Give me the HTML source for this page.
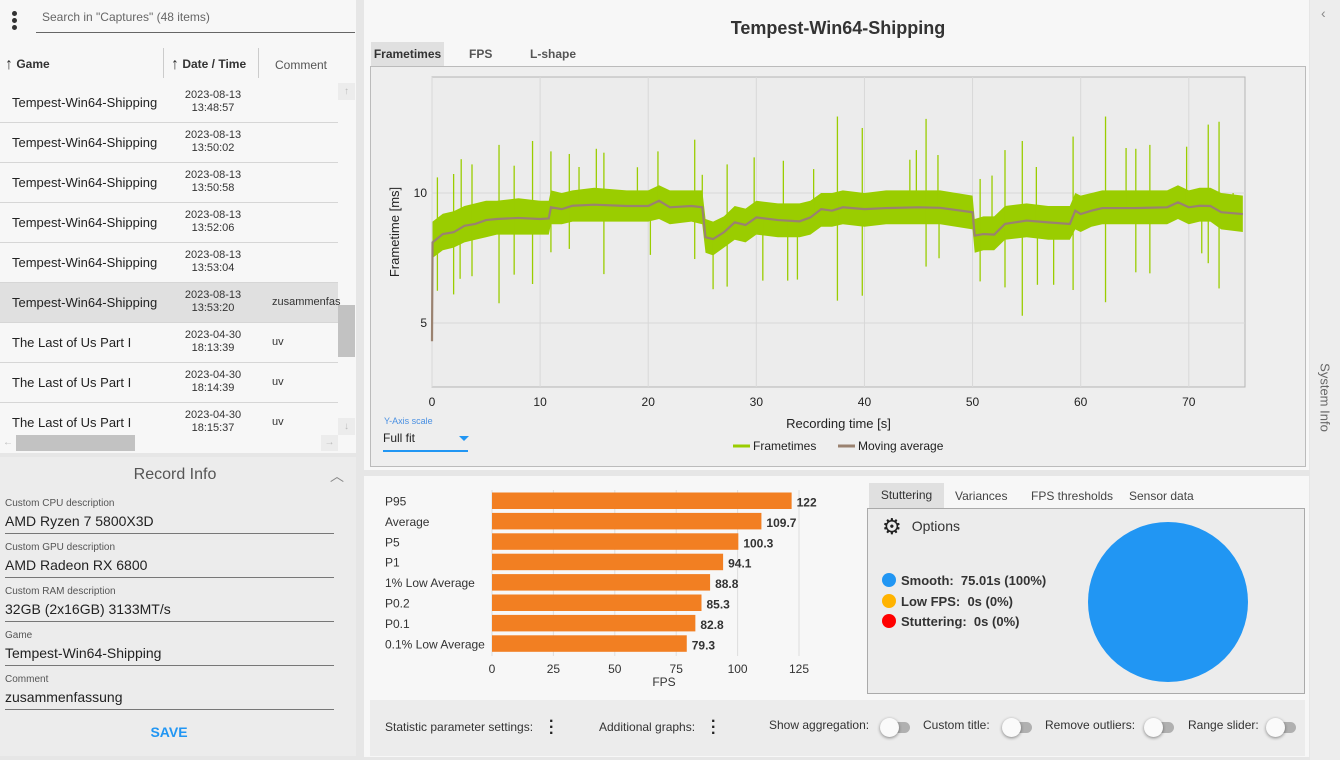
<!DOCTYPE html>
<html><head><meta charset="utf-8">
<style>
*{box-sizing:border-box;margin:0;padding:0}
body{width:1340px;height:760px;overflow:hidden;background:#e6e6e6;font-family:"Liberation Sans",sans-serif;color:#222;position:relative}
.a{position:absolute;white-space:nowrap}
.row{position:absolute;left:0;width:338px;height:40px;border-bottom:1px solid #d6d6d6}
.row .n{position:absolute;left:12px;top:12px;font-size:13px;color:#222}
.row .d{position:absolute;left:170px;width:86px;top:6px;font-size:11px;line-height:13px;text-align:center;color:#333}
.row .c{position:absolute;left:272px;top:13px;font-size:11px;color:#333}
.fl{position:absolute;left:5px;font-size:10px;color:#555}
.fv{position:absolute;left:5px;font-size:14px;color:#222;width:329px;border-bottom:1px solid #777;padding-bottom:4px}
.tog{position:absolute;width:24px;height:11px;border-radius:6px;background:#b0b0b0}
.tog i{position:absolute;left:-6px;top:-4px;width:19px;height:19px;border-radius:50%;background:#fafafa;box-shadow:0 1px 3px rgba(0,0,0,.45)}
</style></head><body>
<!-- left panel -->
<div class="a" style="left:0;top:0;width:356px;height:453px;background:#f7f7f7"></div>
<div class="a" style="left:12px;top:11px;width:6px;height:20px">
<div style="position:absolute;left:0;top:0;width:5px;height:5px;border-radius:50%;background:#333"></div>
<div style="position:absolute;left:0;top:7px;width:5px;height:5px;border-radius:50%;background:#333"></div>
<div style="position:absolute;left:0;top:14px;width:5px;height:5px;border-radius:50%;background:#333"></div></div>
<div class="a" style="left:36px;top:10px;width:319px;height:23px;border-bottom:1px solid #666;font-size:12px;color:#666;padding-left:6px">Search in "Captures" (48 items)</div>
<div class="a" style="left:5px;top:56px;font-size:12px;font-weight:bold;color:#333"><span style="font-size:16px;vertical-align:-1px">↑</span> Game</div>
<div class="a" style="left:163px;top:48px;width:1px;height:30px;background:#ccc"></div>
<div class="a" style="left:171px;top:56px;font-size:12px;font-weight:bold;color:#333"><span style="font-size:16px;vertical-align:-1px">↑</span> Date / Time</div>
<div class="a" style="left:258px;top:48px;width:1px;height:30px;background:#ccc"></div>
<div class="a" style="left:275px;top:58px;font-size:12px;color:#555">Comment</div>

<div class="row" style="top:83px"><span class="n">Tempest-Win64-Shipping</span><span class="d">2023-08-13<br>13:48:57</span></div>
<div class="row" style="top:123px"><span class="n">Tempest-Win64-Shipping</span><span class="d">2023-08-13<br>13:50:02</span></div>
<div class="row" style="top:163px"><span class="n">Tempest-Win64-Shipping</span><span class="d">2023-08-13<br>13:50:58</span></div>
<div class="row" style="top:203px"><span class="n">Tempest-Win64-Shipping</span><span class="d">2023-08-13<br>13:52:06</span></div>
<div class="row" style="top:243px"><span class="n">Tempest-Win64-Shipping</span><span class="d">2023-08-13<br>13:53:04</span></div>
<div class="row" style="top:283px;background:#e0e0e0"><span class="n">Tempest-Win64-Shipping</span><span class="d">2023-08-13<br>13:53:20</span><span class="c">zusammenfas</span></div>
<div class="row" style="top:323px"><span class="n">The Last of Us Part I</span><span class="d">2023-04-30<br>18:13:39</span><span class="c">uv</span></div>
<div class="row" style="top:363px"><span class="n">The Last of Us Part I</span><span class="d">2023-04-30<br>18:14:39</span><span class="c">uv</span></div>
<div class="row" style="top:403px;border:none;height:32px;overflow:hidden"><span class="n">The Last of Us Part I</span><span class="d">2023-04-30<br>18:15:37</span><span class="c">uv</span></div>

<div class="a" style="left:338px;top:83px;width:17px;height:17px;background:#ececec;color:#bbb;font-size:10px;text-align:center;line-height:17px">↑</div>
<div class="a" style="left:338px;top:305px;width:17px;height:52px;background:#c2c2c2"></div>
<div class="a" style="left:338px;top:418px;width:17px;height:17px;background:#ececec;color:#bbb;font-size:10px;text-align:center;line-height:17px">↓</div>
<div class="a" style="left:0;top:435px;width:16px;height:16px;color:#bbb;font-size:10px;text-align:center;line-height:16px">←</div>
<div class="a" style="left:16px;top:435px;width:119px;height:16px;background:#c2c2c2"></div>
<div class="a" style="left:321px;top:435px;width:17px;height:16px;background:#ececec;color:#bbb;font-size:10px;text-align:center;line-height:16px">→</div>

<!-- record info -->
<div class="a" style="left:0;top:457px;width:356px;height:299px;background:#ececec"></div>
<div class="a" style="left:0;top:466px;width:350px;text-align:center;font-size:16px;color:#555">Record Info</div>
<div class="a" style="left:330px;top:466px;font-size:14px;color:#888">︿</div>
<div class="fl" style="top:498px">Custom CPU description</div>
<div class="fv" style="top:513px">AMD Ryzen 7 5800X3D</div>
<div class="fl" style="top:542px">Custom GPU description</div>
<div class="fv" style="top:557px">AMD Radeon RX 6800</div>
<div class="fl" style="top:586px">Custom RAM description</div>
<div class="fv" style="top:601px">32GB (2x16GB) 3133MT/s</div>
<div class="fl" style="top:630px">Game</div>
<div class="fv" style="top:645px">Tempest-Win64-Shipping</div>
<div class="fl" style="top:674px">Comment</div>
<div class="fv" style="top:689px">zusammenfassung</div>
<div class="a" style="left:139px;top:724px;width:60px;text-align:center;font-size:14px;font-weight:bold;color:#2196f3">SAVE</div>

<!-- center top -->
<div class="a" style="left:364px;top:0;width:945px;height:470px;background:#f7f7f7"></div>
<div class="a" style="left:364px;top:18px;width:948px;text-align:center;font-size:18px;font-weight:bold;color:#333">Tempest-Win64-Shipping</div>
<div class="a" style="left:371px;top:42px;width:73px;height:24px;background:#e0e0e0;font-size:12px;font-weight:bold;color:#333;text-align:center;line-height:24px">Frametimes</div>
<div class="a" style="left:469px;top:47px;font-size:12px;font-weight:bold;color:#555">FPS</div>
<div class="a" style="left:530px;top:47px;font-size:12px;font-weight:bold;color:#555">L-shape</div>
<div class="a" style="left:370px;top:66px;width:936px;height:401px;background:#eeeeee;border:1px solid #bbb"></div>
<svg class="a" style="left:0;top:0" width="1340" height="760" id="ft"></svg>
<div class="a" style="left:384px;top:416px;font-size:9px;color:#4a90e2">Y-Axis scale</div>
<div class="a" style="left:383px;top:431px;width:85px;height:21px;border-bottom:2px solid #2196f3;font-size:12px;color:#222">Full fit<span style="position:absolute;left:76px;top:5px;border-left:5px solid transparent;border-right:5px solid transparent;border-top:5px solid #2196f3"></span></div>

<!-- bottom center -->
<div class="a" style="left:364px;top:476px;width:945px;height:281px;background:#f7f7f7"></div>
<svg class="a" style="left:0;top:0" width="1340" height="760" id="bc"></svg>
<div class="a" style="left:869px;top:483px;width:75px;height:25px;background:#e0e0e0;font-size:12px;color:#333;text-align:center;line-height:25px">Stuttering</div>
<div class="a" style="left:955px;top:489px;font-size:12px;color:#444">Variances</div>
<div class="a" style="left:1031px;top:489px;font-size:12px;color:#444">FPS thresholds</div>
<div class="a" style="left:1129px;top:489px;font-size:12px;color:#444">Sensor data</div>
<div class="a" style="left:867px;top:508px;width:438px;height:186px;background:#ececec;border:1px solid #aaa"></div>
<div class="a" style="left:882px;top:514px;font-size:14px;color:#333"><span style="font-size:22px;color:#222">⚙</span><span style="position:relative;left:10px;top:-3px">Options</span></div>
<div class="a" style="left:882px;top:573px;font-size:13px;font-weight:bold;color:#333"><span style="display:inline-block;width:14px;height:14px;border-radius:50%;background:#2196f3;vertical-align:-2px;margin-right:5px"></span>Smooth:&nbsp; 75.01s (100%)</div>
<div class="a" style="left:882px;top:594px;font-size:13px;font-weight:bold;color:#333"><span style="display:inline-block;width:14px;height:14px;border-radius:50%;background:#ffb300;vertical-align:-2px;margin-right:5px"></span>Low FPS:&nbsp; 0s (0%)</div>
<div class="a" style="left:882px;top:614px;font-size:13px;font-weight:bold;color:#333"><span style="display:inline-block;width:14px;height:14px;border-radius:50%;background:#f00;vertical-align:-2px;margin-right:5px"></span>Stuttering:&nbsp; 0s (0%)</div>
<svg class="a" style="left:1080px;top:514px" width="180" height="180"><circle cx="88" cy="88" r="80" fill="#2196f3"/></svg>

<div class="a" style="left:370px;top:700px;width:935px;height:56px;background:#ececec"></div>
<div class="a" style="left:385px;top:720px;font-size:12px;color:#333">Statistic parameter settings:</div>
<div class="a" style="left:549px;top:719px;font-size:16px;font-weight:bold;line-height:6px;color:#222">·<br>·<br>·</div>
<div class="a" style="left:599px;top:720px;font-size:12px;color:#333">Additional graphs:</div>
<div class="a" style="left:711px;top:719px;font-size:16px;font-weight:bold;line-height:6px;color:#222">·<br>·<br>·</div>
<div class="a" style="left:769px;top:718px;font-size:12px;color:#333">Show aggregation:</div>
<div class="tog" style="left:886px;top:722px"><i></i></div>
<div class="a" style="left:923px;top:718px;font-size:12px;color:#333">Custom title:</div>
<div class="tog" style="left:1008px;top:722px"><i></i></div>
<div class="a" style="left:1045px;top:718px;font-size:12px;color:#333">Remove outliers:</div>
<div class="tog" style="left:1150px;top:722px"><i></i></div>
<div class="a" style="left:1188px;top:718px;font-size:12px;color:#333">Range slider:</div>
<div class="tog" style="left:1272px;top:722px"><i></i></div>

<!-- right strip -->
<div class="a" style="left:1310px;top:0;width:30px;height:760px;background:#ededed"></div>
<div class="a" style="left:1321px;top:5px;font-size:14px;color:#888">‹</div>
<div class="a" style="left:1280px;top:390px;width:90px;text-align:center;font-size:13px;color:#666;transform:rotate(90deg)">System Info</div>

<script>
// ---------- Frametime chart data ----------
const maTimes = [0,0.05,1,2,3,4,5,6,8,10,10.8,11,12,13,15,18,20,21,22,24,25,25.3,26,27,28,29,30,32,34,35,36,37,38,40,42,45,47,50,50.2,51,52,53,55,57,59,59.5,60,61,62,65,68,69,70,71,72,73,75];
const maValues = [4.3,8.1,8.42,8.49,8.74,8.81,8.96,9.0,9.04,9.0,9.02,9.45,9.38,9.51,9.55,9.5,9.5,9.7,9.45,9.5,9.45,8.3,8.23,8.49,8.87,8.77,9.06,8.96,8.91,9.06,9.38,9.32,9.45,9.38,9.42,9.45,9.43,9.26,8.36,8.42,8.4,8.81,8.94,8.87,8.81,9.32,9.19,9.32,9.42,9.42,9.45,9.64,9.45,9.51,9.5,9.26,9.19];
const bandHi = [8.6,8.9,9.2,9.3,9.5,9.6,9.7,9.7,9.8,9.7,9.7,10.1,10.0,10.1,10.2,10.1,10.1,10.3,10.1,10.1,10.1,9.0,8.9,9.1,9.5,9.4,9.7,9.6,9.6,9.7,10.0,10.0,10.1,10.0,10.1,10.1,10.1,9.9,9.0,9.1,9.1,9.5,9.6,9.5,9.5,10.0,9.9,10.0,10.1,10.1,10.1,10.3,10.1,10.2,10.2,10.0,9.9];
const bandLo = [7.6,7.5,7.8,7.9,8.1,8.2,8.3,8.4,8.4,8.4,8.4,8.8,8.8,8.9,8.9,8.9,8.9,9.0,8.8,8.9,8.8,7.7,7.6,7.9,8.2,8.1,8.4,8.3,8.3,8.4,8.7,8.7,8.8,8.7,8.8,8.8,8.8,8.6,7.7,7.8,7.8,8.2,8.3,8.2,8.2,8.6,8.5,8.7,8.8,8.8,8.8,9.0,8.8,8.9,8.9,8.6,8.5];
const spikeUpT = [0.5,2.0,2.7,3.7,6.2,7.6,9.3,11.0,12.7,13.6,15.2,15.9,19.0,20.9,24.3,25.0,27.3,29.8,32.5,35.3,37.5,39.8,44.2,44.8,45.7,46.8,50.7,51.8,53.0,54.6,55.9,59.3,62.3,64.2,65.1,66.4,69.8,71.8,72.8,74.1];
const spikeUpV = [10.6,10.73,11.3,11.1,11.85,11.05,12.0,11.6,11.5,11.0,11.7,11.55,10.99,11.6,12.05,10.7,11.1,11.37,11.24,10.92,12.94,12.5,11.28,11.65,12.85,11.46,10.54,10.67,11.65,12.0,11.0,12.17,12.94,11.73,11.7,11.85,11.78,12.63,12.74,10.0];
const spikeDnT = [0.5,2.0,2.6,3.7,6.2,7.6,9.3,11.0,12.7,15.9,20.2,24.3,26.0,27.3,30.6,32.9,33.8,37.5,39.8,45.7,46.9,50.7,53.0,54.6,56.0,57.5,59.3,62.3,65.1,66.4,71.2,71.8,72.8];
const spikeDnV = [6.24,6.1,6.7,6.8,5.76,6.86,6.5,7.72,7.85,6.88,7.62,7.46,6.3,6.4,6.63,6.63,6.67,5.86,6.05,7.17,7.49,6.6,6.37,5.28,6.47,6.47,6.27,5.8,6.95,6.91,7.68,7.3,6.33];
const xTicks = [0,10,20,30,40,50,60,70];
const yTicks = [5,10];

// ---------- Bar chart data ----------
const barCategories = ["P95","Average","P5","P1","1% Low Average","P0.2","P0.1","0.1% Low Average"];
const barValues = [122,109.7,100.3,94.1,88.8,85.3,82.8,79.3];
const barTicks = [0,25,50,75,100,125];

const NS = "http://www.w3.org/2000/svg";
function mk(parent, tag, attrs){ const e=document.createElementNS(NS,tag); for(const k in attrs) e.setAttribute(k,attrs[k]); parent.appendChild(e); return e; }

const ft = document.getElementById('ft');
const X0=432, X1=1245, Y0=387, Y1=77, TMAX=75.2, VMIN=2.54, VMAX=14.46;
const sx = t => X0 + (t/TMAX)*(X1-X0);
const sy = v => Y0 - (v-VMIN)/(VMAX-VMIN)*(Y0-Y1);
function maAt(t){ for(let i=1;i<maTimes.length;i++){ if(t<=maTimes[i]){ const f=(t-maTimes[i-1])/(maTimes[i]-maTimes[i-1]); return maValues[i-1]+f*(maValues[i]-maValues[i-1]); } } return maValues[maValues.length-1]; }

const plot = mk(ft,'rect',{x:X0,y:Y1,width:X1-X0,height:Y0-Y1,fill:'#ececec',stroke:'#b5b5b5','stroke-width':1});


xTicks.forEach(t=>{
  const g = mk(ft,'line',{x1:sx(t),x2:sx(t),y1:Y1,y2:Y0,stroke:'#d8d8d8'});
  
  
  const l = mk(ft,'text',{x:sx(t),y:Y0+19,'text-anchor':'middle','font-size':12,fill:'#222','font-family':'Liberation Sans'});
  l.textContent=t;
  
  
});
yTicks.forEach(v=>{
  const g = mk(ft,'line',{x1:X0,x2:X1,y1:sy(v),y2:sy(v),stroke:'#d8d8d8'});
  
  
  const l = mk(ft,'text',{x:X0-5,y:sy(v)+4,'text-anchor':'end','font-size':12,fill:'#222','font-family':'Liberation Sans'});
  l.textContent=v;
  
  
});
let pts=[];
for(let i=1;i<maTimes.length;i++) pts.push(sx(maTimes[i])+','+sy(bandHi[i]));
for(let i=maTimes.length-1;i>=1;i--) pts.push(sx(maTimes[i])+','+sy(bandLo[i]));
const band = mk(ft,'polygon',{points:pts.join(' '),fill:'#9acd00'});


spikeUpT.forEach((t,i)=>{
  const s = mk(ft,'line',{x1:sx(t),x2:sx(t),y1:sy(maAt(t)),y2:sy(spikeUpV[i]),stroke:'#9acd00','stroke-width':1.3});
  
  
});
spikeDnT.forEach((t,i)=>{
  const s = mk(ft,'line',{x1:sx(t),x2:sx(t),y1:sy(maAt(t)),y2:sy(spikeDnV[i]),stroke:'#9acd00','stroke-width':1.3});
  
  
});
let mp=[];
for(let i=0;i<maTimes.length;i++) mp.push(sx(maTimes[i])+','+sy(maValues[i]));
const ma = mk(ft,'polyline',{points:mp.join(' '),fill:'none',stroke:'#9a8270','stroke-width':2.2});


const xt = mk(ft,'text',{x:(X0+X1)/2,y:428,'text-anchor':'middle','font-size':13,fill:'#222','font-family':'Liberation Sans'});
xt.textContent='Recording time [s]';


const yt = mk(ft,'text',{x:0,y:0,'text-anchor':'middle','font-size':13,fill:'#222','font-family':'Liberation Sans',transform:'translate(399,232) rotate(-90)'});
yt.textContent='Frametime [ms]';


const lg1 = mk(ft,'line',{x1:733,x2:750,y1:446,y2:446,stroke:'#9acd00','stroke-width':3});


const lt1 = mk(ft,'text',{x:753,y:450,'font-size':12,fill:'#222','font-family':'Liberation Sans'});
lt1.textContent='Frametimes';


const lg2 = mk(ft,'line',{x1:838,x2:855,y1:446,y2:446,stroke:'#9a8270','stroke-width':3});


const lt2 = mk(ft,'text',{x:858,y:450,'font-size':12,fill:'#222','font-family':'Liberation Sans'});
lt2.textContent='Moving average';



const bc = document.getElementById('bc');
const BX0=492, BPX=(799-492)/125, BY0=492.5, BSTEP=20.4, BH=16.5;
const bx = v => BX0 + v*BPX;
barTicks.forEach(t=>{
  const g = mk(bc,'line',{x1:bx(t),x2:bx(t),y1:490,y2:656,stroke:'#dedede'});
  
  
  const l = mk(bc,'text',{x:bx(t),y:673,'text-anchor':'middle','font-size':12,fill:'#333','font-family':'Liberation Sans'});
  l.textContent=t;
  
  
});
barCategories.forEach((c,i)=>{
  const y = BY0 + i*BSTEP;
  const r = mk(bc,'rect',{x:BX0,y:y,width:bx(barValues[i])-BX0,height:BH,fill:'#f27f22'});
  
  
  const l = mk(bc,'text',{x:385,y:y+13,'font-size':12,fill:'#333','font-family':'Liberation Sans'});
  l.textContent=c;
  
  
  const v = mk(bc,'text',{x:bx(barValues[i])+5,y:y+14,'font-size':12,'font-weight':'bold',fill:'#333','font-family':'Liberation Sans'});
  v.textContent=barValues[i];
  
  
});
const fx = mk(bc,'text',{x:664,y:686,'text-anchor':'middle','font-size':12,fill:'#333','font-family':'Liberation Sans'});
fx.textContent='FPS';


</script>
</body></html>
